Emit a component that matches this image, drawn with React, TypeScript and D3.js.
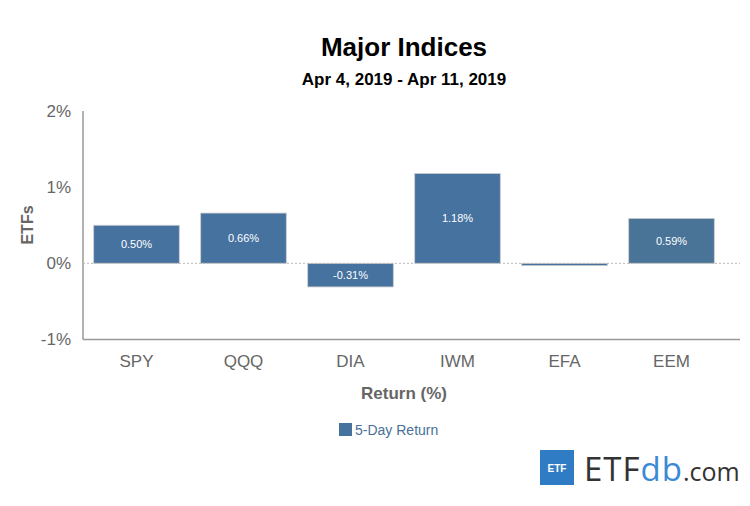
import React from "react";
import * as d3 from "d3";

const tickers = ["SPY", "QQQ", "DIA", "IWM", "EFA", "EEM"];
const returns = [0.5, 0.66, -0.31, 1.18, -0.03, 0.59];
const barColors = ["#4672a0", "#4672a0", "#4672a0", "#4672a0", "#4672a0", "#497498"];
const yTicks = [-1, 0, 1, 2];

const width = 750;
const height = 506;
const margin = { top: 111, right: 10, bottom: 166, left: 83 };

export default function App() {
  const x = d3
    .scaleBand<string>()
    .domain(tickers)
    .range([margin.left, 725])
    .paddingInner(0.2)
    .paddingOuter(0.1);

  const y = d3
    .scaleLinear()
    .domain([-1, 2])
    .range([height - margin.bottom - 0.5, margin.top]);

  const font = "Arial, 'Liberation Sans', sans-serif";
  const grey = "#666";

  return (
    <svg
      width={width}
      height={height}
      style={{ position: "absolute", left: 0, top: 0, fontFamily: font }}
    >
      <rect width={width} height={height} fill="#fff" />

      {/* titles */}
      <text x={404} y={56} textAnchor="middle" fontSize={26} fontWeight="bold" fill="#000">
        Major Indices
      </text>
      <text x={404} y={85} textAnchor="middle" fontSize={17} fontWeight="bold" fill="#000">
        Apr 4, 2019 - Apr 11, 2019
      </text>

      {/* y axis */}
      {yTicks.map((t) => (
        <text
          key={t}
          x={71}
          y={y(t)}
          dy="0.35em"
          textAnchor="end"
          fontSize={17}
          fill={grey}
        >
          {t}%
        </text>
      ))}
      <line x1={83} x2={83} y1={y(2)} y2={y(-1)} stroke="#999" strokeWidth={1.5} />
      <line x1={83} x2={740} y1={y(-1)} y2={y(-1)} stroke="#999" strokeWidth={1.5} />
      <text
        transform={`translate(33, 225) rotate(-90)`}
        textAnchor="middle"
        fontSize={16}
        fontWeight="bold"
        fill={grey}
      >
        ETFs
      </text>

      {/* bars */}
      {tickers.map((t, i) => {
        const v = returns[i];
        const y0 = y(Math.max(0, v));
        const h = Math.abs(y(v) - y(0));
        const bx = x(t)!;
        return (
          <g key={t}>
            <rect
              x={bx}
              y={y0}
              width={x.bandwidth()}
              height={h}
              fill={barColors[i]}
              stroke="#ccc"
              strokeWidth={0.8}
            />
            {Math.abs(v) > 0.1 && (
              <text
                x={bx + x.bandwidth() / 2}
                y={y0 + h / 2}
                dy="0.35em"
                textAnchor="middle"
                fontSize={11}
                fill="#fff"
              >
                {v.toFixed(2)}%
              </text>
            )}
          </g>
        );
      })}

      {/* zero line */}
      <line
        x1={83}
        x2={740}
        y1={y(0)}
        y2={y(0)}
        stroke="#bbb"
        strokeWidth={1}
        strokeDasharray="2,2"
      />

      {/* x labels */}
      {tickers.map((t) => (
        <text
          key={t}
          x={x(t)! + x.bandwidth() / 2}
          y={367}
          textAnchor="middle"
          fontSize={17}
          fill={grey}
        >
          {t}
        </text>
      ))}
      <text x={404} y={399} textAnchor="middle" fontSize={17} fontWeight="bold" fill={grey}>
        Return (%)
      </text>

      {/* legend */}
      <rect x={339} y={423} width={13} height={13} fill="#4672a0" />
      <text x={355} y={435} fontSize={14} fill="#4a6f96">
        5-Day Return
      </text>

      {/* logo */}
      <rect x={540} y={450} width={34} height={35} fill="#2f7bc4" />
      <text x={557} y={472} textAnchor="middle" fontSize={10} fontWeight="bold" fill="#fff">
        ETF
      </text>
      <text x={584} y={481} fontSize={33} fill="#333" fontFamily="'Open Sans', Lato, sans-serif" letterSpacing={1}>
        ETF
        <tspan fill="#3a8ad6">db</tspan>
        <tspan fontSize={25} letterSpacing={0}>.com</tspan>
      </text>
    </svg>
  );
}
